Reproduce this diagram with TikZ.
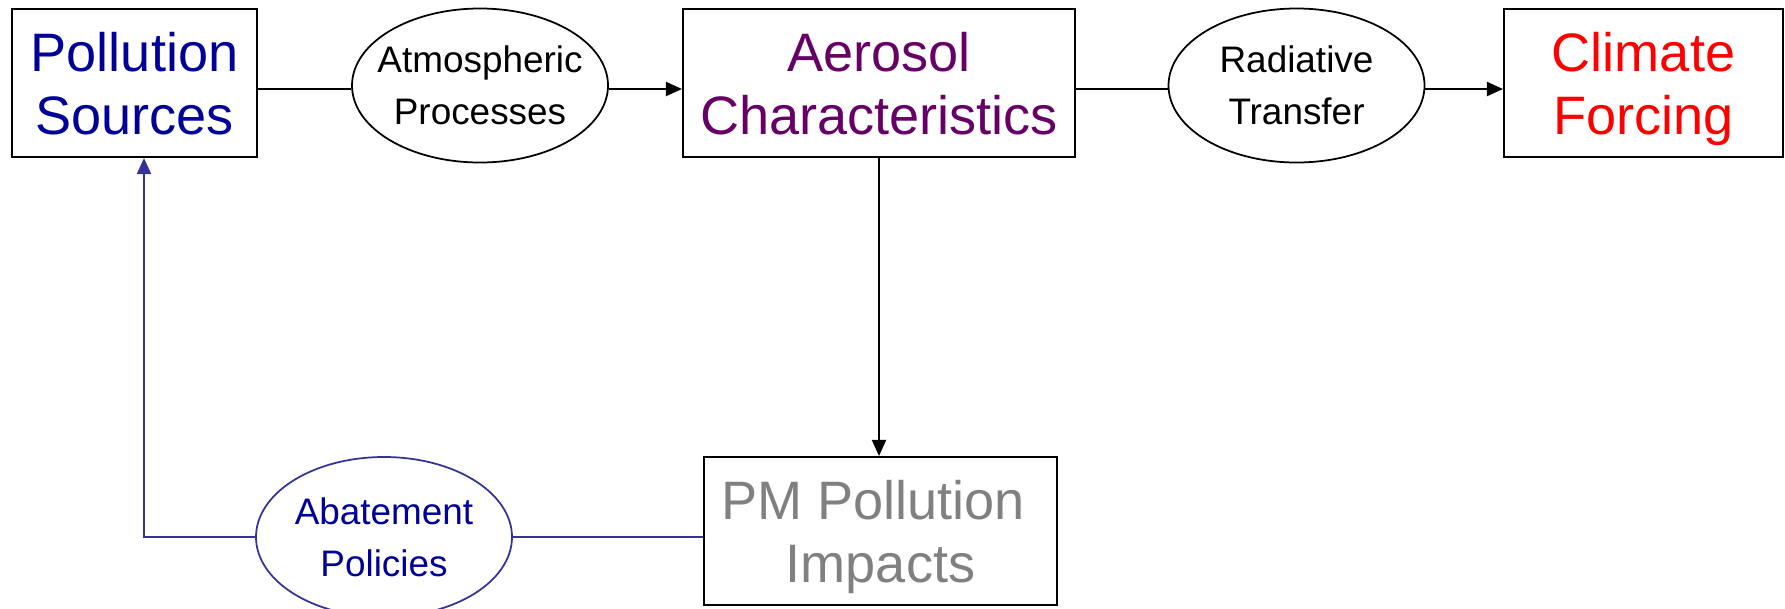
\documentclass[tikz,border=0pt]{standalone}
\usepackage{fontspec}
\setmainfont{Liberation Sans}
\usepackage{tikz}
\usetikzlibrary{arrows.meta, shapes.geometric}

\definecolor{srcblue}{RGB}{0,0,153}
\definecolor{aerpurple}{RGB}{102,0,102}
\definecolor{climred}{RGB}{255,0,0}
\definecolor{pmgray}{RGB}{128,128,128}
\definecolor{loopblue}{RGB}{51,51,153}

\begin{document}
\begin{tikzpicture}[
		box/.style={draw, rectangle, line width=0.6pt, inner sep=0pt, minimum height=1.48cm, text depth=0pt, align=center, font=\fontsize{15.4pt}{17.9pt}\selectfont},
		oval/.style={draw, ellipse, line width=0.5pt, inner xsep=-0.2cm, inner ysep=0pt, minimum width=2.56cm, minimum height=1.54cm, align=center, font=\fontsize{10.5pt}{14.8pt}\selectfont},
		link/.style={line width=0.6pt},
		>={Triangle[length=0.16cm,width=0.14cm]}
	]
				% Frame
				\useasboundingbox (0,0) rectangle (17.85,6.08);
				
				% Top row
				\node[box, minimum width=2.45cm, text=srcblue] (src) at (1.345,5.25) {Pollution\\Sources};
				\node[oval] (atm) at (4.80,5.225) {Atmospheric\\Processes};
				\node[box, minimum width=3.92cm, text=aerpurple] (aer) at (8.79,5.25) {Aerosol\\Characteristics};
				\node[oval] (rad) at (12.965,5.225) {Radiative\\Transfer};
				\node[box, minimum width=2.79cm, text=climred] (clim) at (16.435,5.25) {Climate\\Forcing};
				
				% Bottom row
				\node[box, minimum width=3.53cm, text=pmgray] (pm) at (8.805,0.77) {PM Pollution\kern0.278em\\Impacts};
				\node[oval, draw=loopblue, text=srcblue, minimum height=1.60cm] (aba) at (3.84,0.71) {Abatement\\Policies};
				\coordinate (bend) at (1.44,0.71);
				
				% Links
				\draw[link] ([yshift=-0.035cm]atm.west -| src.east) -- ([yshift=-0.035cm]atm.west);
				\draw[link, ->] ([yshift=-0.035cm]atm.east) -- ([yshift=-0.035cm]atm.east -| aer.west);
				\draw[link] ([yshift=-0.035cm]rad.west -| aer.east) -- ([yshift=-0.035cm]rad.west);
				\draw[link, ->] ([yshift=-0.035cm]rad.east) -- ([yshift=-0.035cm]rad.east -| clim.west);
				\draw[link, ->] (aer.south) -- (aer.south |- pm.north);
				
				% Feedback loop
				\draw[link, loopblue] (aba.east) -- (aba.east -| pm.west);
				\draw[link, loopblue, ->] (aba.west) -- (bend) -- (bend |- src.south);
			\end{tikzpicture}
\end{document}
